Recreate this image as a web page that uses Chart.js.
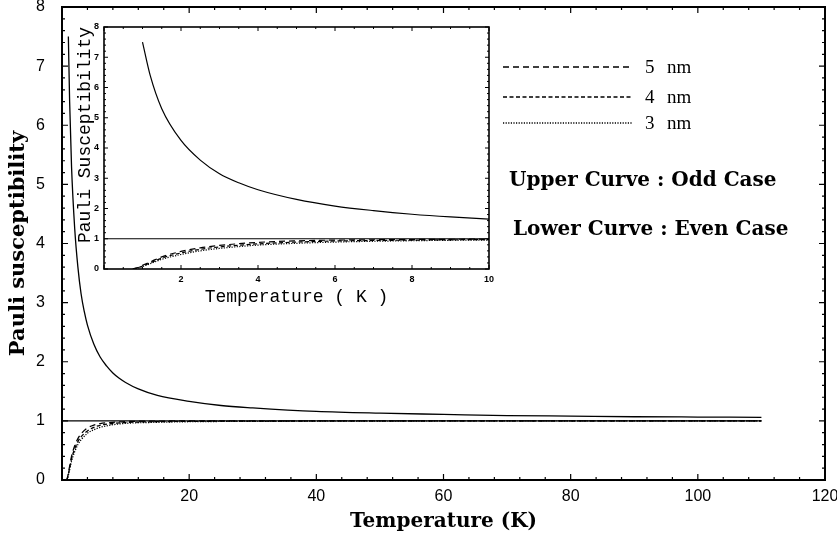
<!DOCTYPE html>
<html lang="en">
<head>
<meta charset="UTF-8">
<title>Pauli susceptibility vs temperature</title>
<script src="https://cdn.jsdelivr.net/npm/chart.js"></script>
<style>
  body { margin: 0; background: #fff; }
  .wrap { position: relative; width: 837px; height: 544px; }
  .wrap canvas { position: absolute; left: 0; top: 0; }
</style>
</head>
<body>
<div class="wrap">
  <canvas id="mainChart" width="837" height="544"></canvas>
  <canvas id="insetChart" width="837" height="544"></canvas>
</div>
<script>
// upper curve (odd case)
const oddTemp = [1, 1.2, 1.5, 2, 2.5, 3, 3.5, 4, 5, 6, 7, 8, 9, 10, 12, 15, 20, 25, 30, 40, 50, 60, 70, 80, 90, 100, 110];
const oddChi  = [7.5, 6.4, 5.3, 4.25, 3.6, 3.15, 2.85, 2.62, 2.3, 2.08, 1.93, 1.81, 1.72, 1.65, 1.54, 1.43, 1.33, 1.26, 1.22, 1.16, 1.13, 1.11, 1.09, 1.08, 1.07, 1.065, 1.06];

// lower curves (even case)
const evenTemp = [0.75, 0.9, 1, 1.25, 1.5, 2, 2.5, 3, 4, 5, 6, 8, 10, 15, 20, 30, 50, 80, 110];
const even5nm  = [0, 0.06, 0.12, 0.26, 0.4, 0.58, 0.7, 0.78, 0.88, 0.93, 0.955, 0.975, 0.988, 0.996, 1, 1, 1, 1, 1];
const even4nm  = [0, 0.05, 0.1, 0.23, 0.36, 0.53, 0.65, 0.73, 0.83, 0.89, 0.925, 0.955, 0.972, 0.986, 0.992, 0.996, 1, 1, 1];
const even3nm  = [0, 0.04, 0.08, 0.2, 0.32, 0.48, 0.6, 0.68, 0.79, 0.85, 0.89, 0.935, 0.958, 0.976, 0.986, 0.992, 0.997, 1, 1];

// flat line at chi = 1
const refTemp = [0, 110];
const refChi  = [1, 1];

const sizeLabels = ['5', '4', '3'];
const sizeUnit = 'nm';
const caseNotes = ['Upper Curve : Odd Case', 'Lower Curve : Even Case'];

function pts(xs, ys) {
    return xs.map((x, i) => ({ x: x, y: ys[i] }));
}

function makeDatasets(w) {
    const base = { borderColor: '#000', backgroundColor: '#000', pointRadius: 0, fill: false, cubicInterpolationMode: 'monotone' };
    return [
        Object.assign({}, base, { label: 'odd', data: pts(oddTemp, oddChi), borderWidth: w }),
        Object.assign({}, base, { label: 'ref', data: pts(refTemp, refChi), borderWidth: w }),
        Object.assign({}, base, { label: '5 nm', data: pts(evenTemp, even5nm), borderWidth: w, borderDash: [6, 4] }),
        Object.assign({}, base, { label: '4 nm', data: pts(evenTemp, even4nm), borderWidth: w, borderDash: [4, 2.5] }),
        Object.assign({}, base, { label: '3 nm', data: pts(evenTemp, even3nm), borderWidth: w, borderDash: [1.2, 1.4] })
    ];
}

// keep Chart.js from reserving extra room for the end tick labels
function fixSize(prop, val) {
    return s => {
        s[prop] = val;
        s.paddingTop = 0; s.paddingBottom = 0;
        s.paddingLeft = 0; s.paddingRight = 0;
    };
}

// frame with inward major/minor ticks on all four sides
function frameTicks(o) {
    return {
        id: 'frameTicks',
        beforeDatasetsDraw(chart) {
            if (!o.whiteBg) return;
            const a = chart.chartArea, ctx = chart.ctx;
            ctx.save();
            ctx.fillStyle = '#fff';
            ctx.fillRect(a.left, a.top, a.right - a.left, a.bottom - a.top);
            ctx.restore();
        },
        afterDatasetsDraw(chart) {
            const { ctx, chartArea: a, scales: { x, y } } = chart;
            ctx.save();
            ctx.strokeStyle = '#000';
            ctx.lineWidth = o.frame;
            ctx.strokeRect(a.left, a.top, a.right - a.left, a.bottom - a.top);
            ctx.lineWidth = o.tick;
            ctx.beginPath();
            const isMajor = (v, step) => Math.abs(v / step - Math.round(v / step)) < 1e-6;
            for (let v = x.min; v <= x.max + 1e-9; v += o.xMinor) {
                const px = x.getPixelForValue(v);
                const len = isMajor(v, o.xMajor) ? o.major : o.minor;
                ctx.moveTo(px, a.bottom); ctx.lineTo(px, a.bottom - len);
                ctx.moveTo(px, a.top); ctx.lineTo(px, a.top + len);
            }
            for (let v = y.min; v <= y.max + 1e-9; v += o.yMinor) {
                const py = y.getPixelForValue(v);
                const len = isMajor(v, o.yMajor) ? o.major : o.minor;
                ctx.moveTo(a.left, py); ctx.lineTo(a.left + len, py);
                ctx.moveTo(a.right, py); ctx.lineTo(a.right - len, py);
            }
            ctx.stroke();
            ctx.restore();
        }
    };
}

// line-style key and the odd/even notes
const keyPlugin = {
    id: 'curveKey',
    afterDraw(chart) {
        const ctx = chart.ctx;
        const rows = [67, 97, 123];
        ctx.save();
        ctx.strokeStyle = '#000';
        ctx.fillStyle = '#000';
        ctx.textBaseline = 'middle';
        sizeLabels.forEach((s, i) => {
            const ds = chart.data.datasets[2 + i];
            ctx.lineWidth = 1.4;
            ctx.setLineDash(ds.borderDash || []);
            ctx.beginPath();
            ctx.moveTo(503, rows[i]);
            ctx.lineTo(632, rows[i]);
            ctx.stroke();
            ctx.font = '19px "Liberation Serif"';
            ctx.fillText(s, 645, rows[i] + 1);
            ctx.fillText(sizeUnit, 667, rows[i] + 1);
        });
        ctx.setLineDash([]);
        ctx.font = 'bold 20px "DejaVu Serif"';
        ctx.fillText(caseNotes[0], 509, 181);
        ctx.fillText(caseNotes[1], 513, 230);
        ctx.restore();
    }
};

const mainChart = new Chart(document.getElementById('mainChart'), {
    type: 'line',
    data: { datasets: makeDatasets(1.3) },
    options: {
        responsive: false,
        animation: false,
        layout: { padding: { top: 7, right: 12, left: 0, bottom: 0 } },
        plugins: { legend: { display: false }, tooltip: { enabled: false } },
        scales: {
            x: {
                type: 'linear', min: 0, max: 120,
                afterFit: fixSize('height', 64),
                grid: { display: false, drawTicks: false },
                border: { display: false },
                ticks: {
                    stepSize: 20, padding: 7, color: '#000', maxRotation: 0,
                    font: { family: '"Liberation Sans"', size: 16 },
                    callback: v => (v === 0 ? '' : v)
                },
                title: {
                    display: true, text: 'Temperature (K)', color: '#000',
                    font: { family: '"DejaVu Serif"', size: 20, weight: 'bold' },
                    padding: { top: 0, bottom: 10 }
                }
            },
            y: {
                type: 'linear', min: 0, max: 8,
                afterFit: fixSize('width', 62),
                grid: { display: false, drawTicks: false },
                border: { display: false },
                ticks: {
                    stepSize: 1, padding: 17, color: '#000',
                    font: { family: '"Liberation Sans"', size: 16 }
                },
                title: {
                    display: true, text: 'Pauli susceptibility', color: '#000',
                    font: { family: '"DejaVu Serif"', size: 21, weight: 'bold' },
                    padding: { top: 6, bottom: 0 }
                }
            }
        }
    },
    plugins: [frameTicks({ frame: 2, tick: 1.2, major: 6, minor: 3, xMajor: 20, xMinor: 4, yMajor: 1, yMinor: 0.2 }), keyPlugin]
});

const insetChart = new Chart(document.getElementById('insetChart'), {
    type: 'line',
    data: { datasets: makeDatasets(1.2) },
    options: {
        responsive: false,
        animation: false,
        layout: { padding: { top: 27, right: 348, left: 0, bottom: 234 } },
        plugins: { legend: { display: false }, tooltip: { enabled: false } },
        scales: {
            x: {
                type: 'linear', min: 0, max: 10,
                afterFit: fixSize('height', 41),
                grid: { display: false, drawTicks: false },
                border: { display: false },
                ticks: {
                    stepSize: 2, padding: 5, color: '#000', maxRotation: 0,
                    font: { family: '"Liberation Sans"', size: 9, weight: 'bold' },
                    callback: v => (v === 0 ? '' : v)
                },
                title: {
                    display: true, text: 'Temperature ( K )', color: '#000',
                    font: { family: '"Liberation Mono"', size: 18 },
                    padding: { top: 0, bottom: 2 }
                }
            },
            y: {
                type: 'linear', min: 0, max: 8,
                afterFit: fixSize('width', 104),
                grid: { display: false, drawTicks: false },
                border: { display: false },
                ticks: {
                    stepSize: 1, padding: 5, color: '#000',
                    font: { family: '"Liberation Sans"', size: 9, weight: 'bold' }
                },
                title: {
                    display: true, text: 'Pauli Susceptibility', color: '#000', align: 'end',
                    font: { family: '"Liberation Mono"', size: 18 },
                    padding: { top: 74, bottom: 0 }
                }
            }
        }
    },
    plugins: [frameTicks({ whiteBg: true, frame: 1.6, tick: 1, major: 4, minor: 2, xMajor: 2, xMinor: 0.5, yMajor: 1, yMinor: 0.2 })]
});
</script>
</body>
</html>
